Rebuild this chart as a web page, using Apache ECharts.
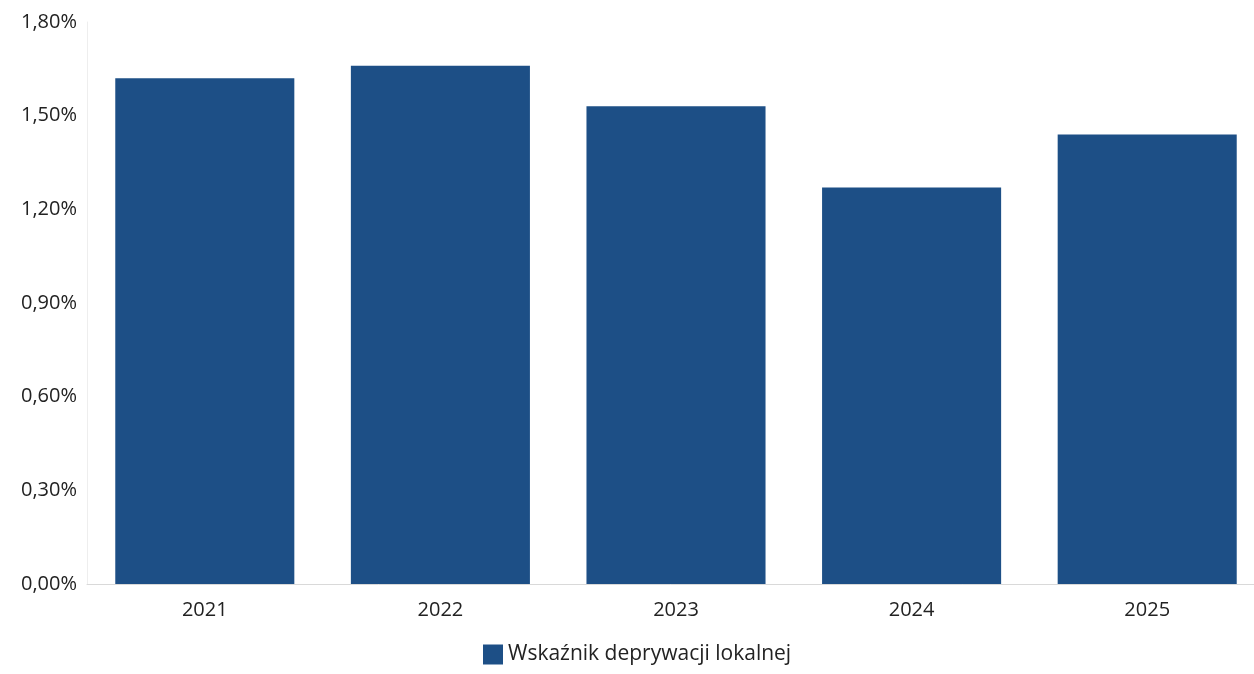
<!DOCTYPE html>
<html><head><meta charset="utf-8">
<script src="https://cdn.jsdelivr.net/npm/echarts@6/dist/echarts.min.js"></script>
<style>html,body{margin:0;padding:0;background:#fff}#c{width:1254px;height:674px}</style>
</head><body><div id="c"></div>
<script>
const categories = ['2021','2022','2023','2024','2025'];
const values = [1.62, 1.66, 1.53, 1.27, 1.44];
const seriesName = 'Wskaźnik deprywacji lokalnej';
const chart = echarts.init(document.getElementById('c'));
chart.setOption({
  animation: false,
  backgroundColor: '#fff',
  textStyle: {fontFamily: 'Open Sans'},
  grid: {left: 87, width: 1178, top: 22, bottom: 90, outerBoundsMode: 'none', containLabel: false},
  legend: {
    bottom: 4, left: 478, itemWidth: 20, itemHeight: 20, itemGap: 7,
    icon: 'rect',
    textStyle: {fontSize: 21, color: '#222', fontFamily: 'Open Sans'},
    data: [seriesName]
  },
  xAxis: {
    type: 'category', data: categories,
    axisLine: {lineStyle: {color: '#d9d9d9'}},
    axisTick: {show: false},
    axisLabel: {fontSize: 20, color: '#222', margin: 16}
  },
  yAxis: {
    type: 'value', min: 0, max: 1.8, interval: 0.3,
    axisLine: {show: true, lineStyle: {color: '#eeeeee'}},
    splitLine: {show: false},
    axisLabel: {fontSize: 20, color: '#222', margin: 10,
      formatter: v => v.toFixed(2).replace('.', ',') + '%'}
  },
  series: [{
    name: seriesName, type: 'bar', data: values, barWidth: '76%',
    itemStyle: {color: '#1d4f86'}
  }]
});
</script></body></html>
